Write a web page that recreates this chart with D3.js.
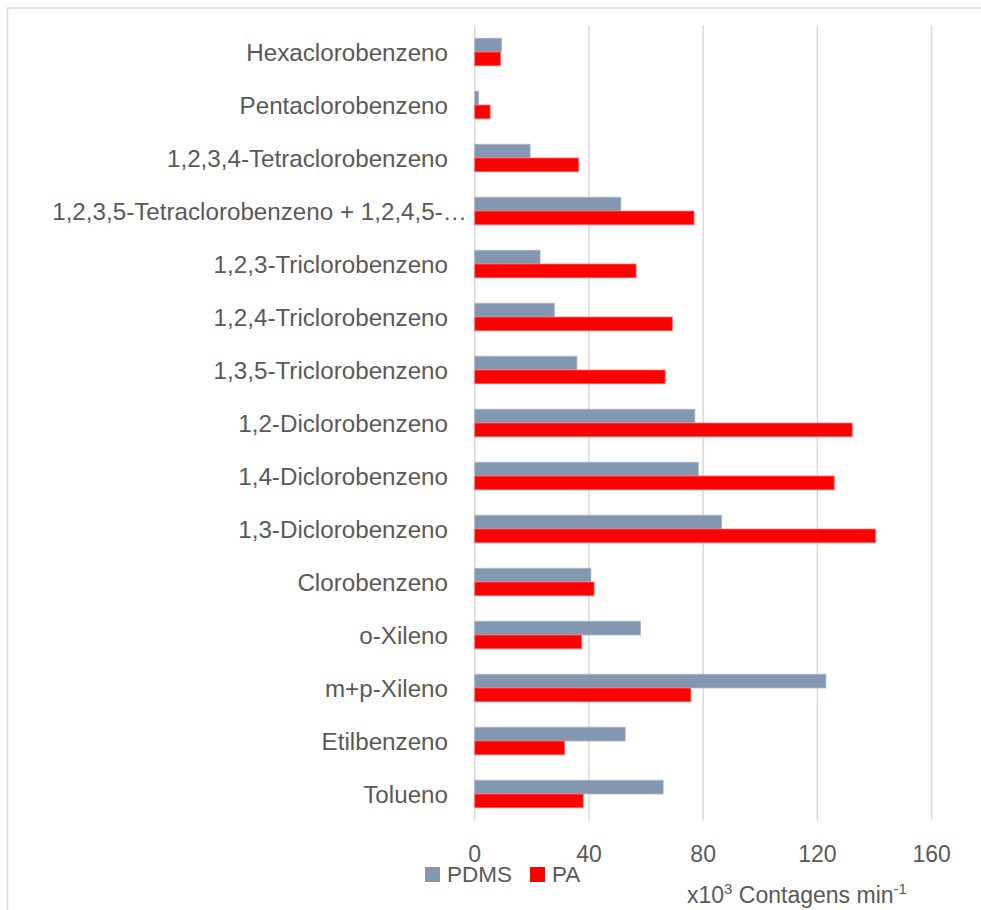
<!DOCTYPE html>
<html>
<head>
<meta charset="utf-8">
<script src="https://cdn.jsdelivr.net/npm/d3@7"></script>
<style>
  html, body { margin: 0; padding: 0; background: #fff; }
  svg { display: block; }
  text { font-family: "Liberation Sans", Arial, sans-serif; fill: #595959; }
</style>
</head>
<body>
<svg id="chart" width="981" height="910"></svg>
<script>
// Compounds, listed from the bottom of the chart to the top
const categories = [
  "Tolueno",
  "Etilbenzeno",
  "m+p-Xileno",
  "o-Xileno",
  "Clorobenzeno",
  "1,3-Diclorobenzeno",
  "1,4-Diclorobenzeno",
  "1,2-Diclorobenzeno",
  "1,3,5-Triclorobenzeno",
  "1,2,4-Triclorobenzeno",
  "1,2,3-Triclorobenzeno",
  "1,2,3,5-Tetraclorobenzeno + 1,2,4,5-…",
  "1,2,3,4-Tetraclorobenzeno",
  "Pentaclorobenzeno",
  "Hexaclorobenzeno"
];

// Responses (x10^3 counts per minute) for each fibre coating
const pdmsValues = [66.0, 52.7, 123.0, 58.1, 40.7, 86.5, 78.3, 77.1, 35.8, 27.9, 22.9, 51.2, 19.4, 1.4, 9.4];
const paValues   = [38.0, 31.5, 75.7, 37.5, 41.8, 140.4, 125.9, 132.2, 66.7, 69.2, 56.5, 76.8, 36.4, 5.4, 9.0];

const seriesNames = ["PDMS", "PA"];
const seriesColors = ["#8497B0", "#FF0000"];
const seriesStrokes = ["#A9B7CA", "#FF6E6E"];
const xTicks = [0, 40, 80, 120, 160];

const svg = d3.select("#chart");

// Chart frame
svg.append("rect")
  .attr("x", 7.5).attr("y", 8)
  .attr("width", 1000).attr("height", 1000)
  .attr("fill", "#fff")
  .attr("stroke", "#D9D9D9")
  .attr("stroke-width", 1.5);

const plot = { left: 474.7, right: 931.6, top: 25.5, bottom: 820.5 };

const x = d3.scaleLinear().domain([0, 160]).range([plot.left, plot.right]);

const y = d3.scaleBand()
  .domain(categories.slice().reverse())
  .range([plot.top, plot.bottom])
  .paddingInner(0.48)
  .paddingOuter(0.24);

const ySub = d3.scaleBand()
  .domain(seriesNames)
  .range([0, y.bandwidth()]);

// Vertical gridlines
svg.append("g")
  .selectAll("line")
  .data(xTicks)
  .join("line")
  .attr("x1", d => x(d)).attr("x2", d => x(d))
  .attr("y1", plot.top).attr("y2", plot.bottom)
  .attr("stroke", "#D9D9D9")
  .attr("stroke-width", 1.5);

// Bars
const rows = categories.map((c, i) => ({ cat: c, values: [pdmsValues[i], paValues[i]] }));

const groups = svg.append("g")
  .selectAll("g")
  .data(rows)
  .join("g")
  .attr("transform", d => `translate(0,${y(d.cat)})`);

groups.selectAll("rect")
  .data(d => d.values.map((v, k) => ({ key: seriesNames[k], v, k })))
  .join("rect")
  .attr("x", x(0))
  .attr("y", d => ySub(d.key))
  .attr("width", d => x(d.v) - x(0))
  .attr("height", ySub.bandwidth())
  .attr("fill", d => seriesColors[d.k])
  .attr("stroke", d => seriesStrokes[d.k])
  .attr("stroke-width", 0.8);

// Category labels
svg.append("g")
  .selectAll("text")
  .data(categories)
  .join("text")
  .attr("x", d => d.endsWith("…") ? 467 : 448)
  .attr("y", d => y(d) + y.bandwidth() / 2)
  .attr("dy", "0.36em")
  .attr("text-anchor", "end")
  .attr("font-size", 24.2)
  .text(d => d);

// Value axis tick labels
svg.append("g")
  .selectAll("text")
  .data(xTicks)
  .join("text")
  .attr("x", d => x(d))
  .attr("y", 862)
  .attr("text-anchor", "middle")
  .attr("font-size", 23)
  .text(d => d);

// Legend
const legend = svg.append("g");
const legendItems = [
  { name: "PDMS", sx: 425, tx: 447 },
  { name: "PA", sx: 530, tx: 552 }
];
legendItems.forEach((it, k) => {
  legend.append("rect")
    .attr("x", it.sx).attr("y", 867)
    .attr("width", 15).attr("height", 15)
    .attr("fill", seriesColors[k]);
  legend.append("text")
    .attr("x", it.tx).attr("y", 882)
    .attr("font-size", 22.5)
    .text(it.name);
});

// Axis title
const title = svg.append("text")
  .attr("x", 687).attr("y", 903)
  .attr("font-size", 23);
title.append("tspan").text("x10");
title.append("tspan").attr("font-size", 15).attr("dy", -9).text("3");
title.append("tspan").attr("dy", 9).text(" Contagens min");
title.append("tspan").attr("font-size", 15).attr("dy", -9).text("-1");
</script>
</body>
</html>
